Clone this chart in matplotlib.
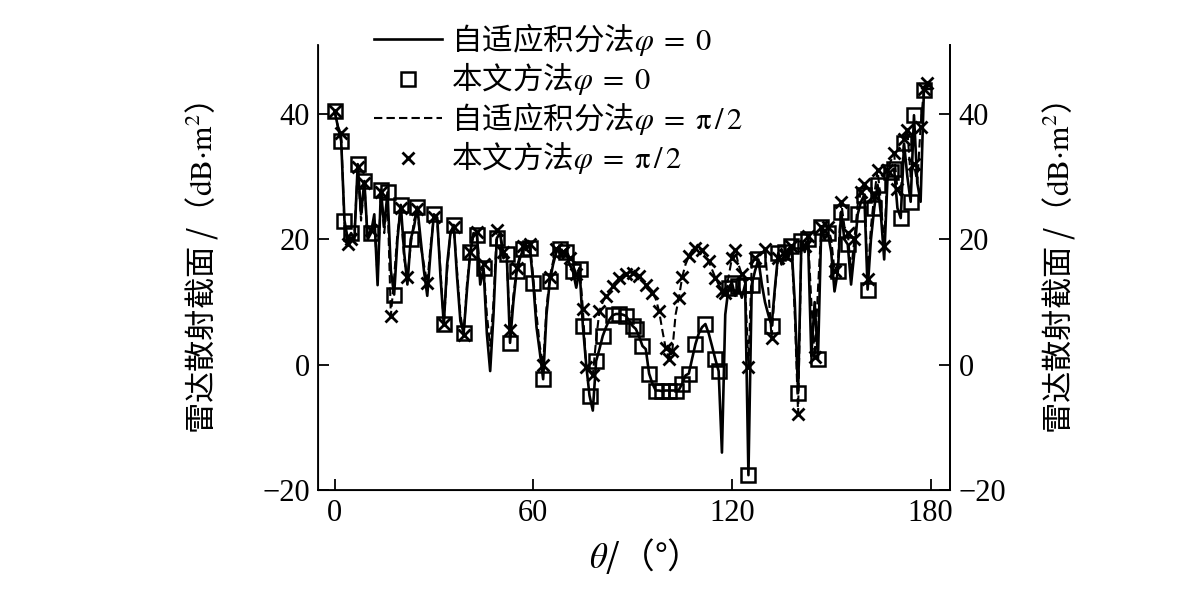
import numpy as np
import matplotlib
matplotlib.use('Agg')
import matplotlib.pyplot as plt

plt.rcParams['font.family'] = ['Liberation Serif', 'Noto Sans CJK SC']
plt.rcParams['mathtext.fontset'] = 'stix'
plt.rcParams['axes.unicode_minus'] = True

# adaptive integral method, phi = 0 (1 deg step)
theta_line = np.arange(0, 181, 1)
rcs_aim_0 = [
    40.5, 38, 35.7, 23, 20, 21, 20, 32, 24, 29.3,
    20, 21, 24, 12.7, 27.9, 22, 27.5, 15, 11.2, 20,
    25.5, 18, 12.8, 20, 22, 25.2, 20, 15, 11, 18,
    24, 23.5, 14, 6.5, 16, 21, 22.3, 14, 7, 5.1,
    12, 18, 21, 20.7, 12.8, 15.4, 5, -1, 8, 20.2,
    21, 17, 17.6, 3.5, 10, 14.9, 17, 18.5, 19, 18.6,
    13.1, 6, 2, -2.3, 8, 13.3, 16, 18, 18.5, 17,
    18, 16, 14.9, 12.3, 15.2, 6.2, 0, -4.9, -7.3, 0.6,
    2.5, 4.6, 6, 7.2, 7.9, 8.1, 8.1, 8, 7.8, 7,
    6.2, 5.7, 4.5, 3, 2.5, -1.4, -3, -4.1, -4.1, -4.2,
    -4.1, -4.1, -4.1, -4.1, -4, -3, -1.7, -1.4, 1, 3.3,
    5, 6, 6.5, 5, 3, 0.9, -1, -14, 8, 12.3,
    13.1, 11, 12.5, 10.7, 12.8, -17.6, 12.8, 15, 16.8, 13,
    10, 8, 6.2, 12.3, 17.8, 16, 18, 17, 19, 10,
    -4.5, 19.7, 18, 20, 1.4, 10, 0.9, 22, 20, 21,
    18, 11.7, 14.9, 24.4, 20, 19.2, 12.8, 18, 24, 26,
    27.1, 12, 20, 25, 28.7, 24, 16.8, 29.7, 30.8, 31.3,
    25, 23.4, 35.3, 30, 26, 39.8, 29, 26, 43.8, 44,
    44,
]

# adaptive integral method, phi = pi/2 (1 deg step)
rcs_aim_90 = [
    40.5, 38, 36.9, 22, 19.2, 20, 21, 31.5, 23, 29,
    20, 21.5, 23, 14, 27.5, 21, 26.5, 7.8, 14, 21,
    25, 17, 14, 19, 23, 24.8, 19, 16, 13, 19,
    23.5, 23, 15, 6.5, 15, 21, 22, 15, 8, 4.8,
    13, 18, 21, 21.2, 14, 16, 8, 3, 10, 21.5,
    21, 18, 17, 5.5, 11, 15.5, 17.5, 19, 19.5, 19.3,
    14, 8, 3, -0.1, 9, 14, 16.5, 18.5, 19, 18,
    18.5, 17, 16, 14.5, 15.5, 8.9, -0.4, -1, -1.7, 4,
    8.6, 10, 11, 11.7, 12.5, 13.2, 13.8, 14.1, 14.5, 14.7,
    14.7, 14.5, 14.1, 13.5, 12.8, 12.3, 11.5, 10.5, 8.6, 5.5,
    2.7, 1, 2.2, 8, 10.7, 14, 16, 17.3, 18.3, 18.6,
    18.6, 18.3, 17.5, 16.5, 15.2, 13.9, 12.8, 11.8, 11.5, 14,
    17, 18.3, 16, 14.4, 13, -0.3, 16, 17, 17.5, 18,
    18.4, 12, 4.3, 12, 17, 18.5, 17.5, 18.5, 19, 8,
    -7.8, 19.5, 19, 20.5, 10, 1.2, 12, 22, 21, 22,
    20, 15, 16, 26, 22, 21, 15, 20, 25.5, 27.5,
    28.9, 13.7, 22, 27, 31.1, 26, 19, 31, 32.5, 33.7,
    28, 27, 36, 37.4, 30, 32, 29, 38, 44, 45,
    45,
]

# proposed method, phi = 0
theta_sq = [0, 2, 3, 5, 7, 9, 11, 14, 16, 18, 20, 23, 25, 30, 33, 36, 39, 41,
            43, 45, 49, 52, 53, 55, 57, 59, 60, 63, 65, 68, 70, 72, 74, 75, 77,
            79, 81, 84, 86, 88, 90, 91, 93, 95, 97, 99, 101, 103, 105, 107, 109,
            112, 115, 116, 119, 120, 122, 124, 125, 126, 128, 132, 134, 136,
            138, 140, 141, 143, 146, 147, 149, 152, 153, 155, 158, 160, 161,
            163, 164, 168, 169, 171, 172, 174, 175, 178]
rcs_sq = [40.5, 35.7, 23, 21, 32, 29.3, 21, 27.9, 27.5, 11.2, 25.5, 20, 25.2,
          24, 6.5, 22.3, 5.1, 18, 20.7, 15.4, 20.2, 17.6, 3.5, 14.9, 18.5,
          18.6, 13.1, -2.3, 13.3, 18.5, 18, 14.9, 15.2, 6.2, -4.9, 0.6, 4.6,
          7.9, 8.1, 7.8, 6.2, 5.7, 3, -1.4, -4.1, -4.2, -4.1, -4.1, -3, -1.4,
          3.3, 6.5, 0.9, -1, 12.3, 13.1, 12.5, 12.8, -17.6, 12.8, 16.8, 6.2,
          17.8, 18, 19, -4.5, 19.7, 20, 0.9, 22, 21, 14.9, 24.4, 19.2, 24,
          27.1, 12, 25, 28.7, 30.8, 31.3, 23.4, 35.3, 26, 39.8, 43.8]

# proposed method, phi = pi/2
theta_x = [0, 2, 4, 5, 7, 9, 11, 14, 17, 20, 22, 25, 28, 30, 33, 36, 39, 41,
           43, 45, 49, 51, 53, 55, 57, 59, 63, 65, 67, 69, 71, 73, 75, 76, 78,
           80, 82, 84, 86, 88, 90, 92, 94, 96, 98, 100, 101, 102, 104, 105,
           107, 109, 111, 113, 115, 117, 118, 120, 121, 123, 125, 127, 130,
           132, 134, 136, 138, 140, 142, 143, 145, 147, 149, 151, 153, 155,
           157, 159, 160, 161, 163, 164, 166, 167, 169, 170, 172, 173, 175,
           177, 178, 179]
rcs_x = [40.5, 36.9, 19.2, 20, 31.5, 29, 21.5, 27.5, 7.8, 25, 14, 24.8, 13,
         23.5, 6.5, 22, 4.8, 18, 21.2, 16, 21.5, 18, 5.5, 15.5, 19, 19.3,
         -0.1, 14, 18.5, 18, 17, 14.5, 8.9, -0.4, -1.7, 8.6, 11, 12.5, 13.8,
         14.5, 14.7, 14.1, 12.8, 11.5, 8.6, 2.7, 1, 2.2, 10.7, 14, 17.3,
         18.6, 18.3, 16.5, 13.9, 11.8, 11.5, 17, 18.3, 14.4, -0.3, 17, 18.4,
         4.3, 17, 17.5, 19, -7.8, 19, 20.5, 1.2, 22, 22, 15, 26, 21, 20,
         27.5, 28.9, 13.7, 27, 31.1, 19, 31, 33.7, 28, 36, 37.4, 32, 38, 44,
         45]

# CJK text goes through mathtext, so the CJK font must be the first family
cjk = 'Noto Sans CJK SC'
labels = ['自适应积分法$\\varphi\\;\\mathrm{=\\;0}$',
          '本文方法$\\varphi\\;\\mathrm{=\\;0}$',
          '自适应积分法$\\varphi\\;\\mathrm{=\\;\\pi\\,/\\,2}$',
          '本文方法$\\varphi\\;\\mathrm{=\\;\\pi\\,/\\,2}$']
ylab = '雷达散射截面 /（$\\mathrm{dB{\\cdot}m^2}$）'

fig = plt.figure(figsize=(12, 6), dpi=100)
ax = fig.add_axes([0.265, 0.183, 0.527, 0.742])

ax.plot(theta_line, rcs_aim_0, color='black', lw=1.9, label=labels[0])
ax.plot(theta_sq, rcs_sq, ls='none', marker='s', ms=10.5, mfc='none',
        mec='black', mew=1.8, label=labels[1])
ax.plot(theta_line, rcs_aim_90, color='black', lw=1.5, ls=(0, (4, 2)),
        label=labels[2])
ax.plot(theta_x, rcs_x, ls='none', marker='x', ms=9, mec='black', mew=2,
        label=labels[3])

ax.set_xlim(-5, 186)
ax.set_ylim(-20, 51)
ax.set_xticks([0, 60, 120, 180])
ax.set_yticks([-20, 0, 20, 40])
ax.yaxis.set_major_formatter(matplotlib.ticker.FuncFormatter(
    lambda v, p: f'{int(v)}'.replace('-', '\u2212')))
ax.spines['top'].set_visible(False)
for s in ['left', 'bottom', 'right']:
    ax.spines[s].set_linewidth(1.3)
ax.tick_params(direction='in', length=8, width=1.3, labelsize=22, pad=6)

ax.set_ylabel(ylab, fontsize=22.5, labelpad=30, fontfamily=cjk)
ax.set_xlabel('$\\theta$/（°）', fontsize=25, labelpad=6, fontfamily=cjk)

ax2 = ax.twinx()
ax2.set_ylim(ax.get_ylim())
ax2.set_yticks([-20, 0, 20, 40])
ax2.yaxis.set_major_formatter(ax.yaxis.get_major_formatter())
ax2.spines['top'].set_visible(False)
ax2.spines['right'].set_linewidth(1.3)
ax2.tick_params(direction='in', length=8, width=1.3, labelsize=22, pad=6)
ax2.set_ylabel(ylab, fontsize=22.5, labelpad=24, fontfamily=cjk)

leg = ax.legend(loc='upper left', bbox_to_anchor=(0.312, 0.965),
                bbox_transform=fig.transFigure, frameon=False,
                prop={'family': cjk, 'size': 22},
                handlelength=2.2, handletextpad=0.3, labelspacing=0.08,
                borderpad=0, borderaxespad=0, numpoints=1)

fig.savefig('out.png', dpi=100)
plt.close(fig)
